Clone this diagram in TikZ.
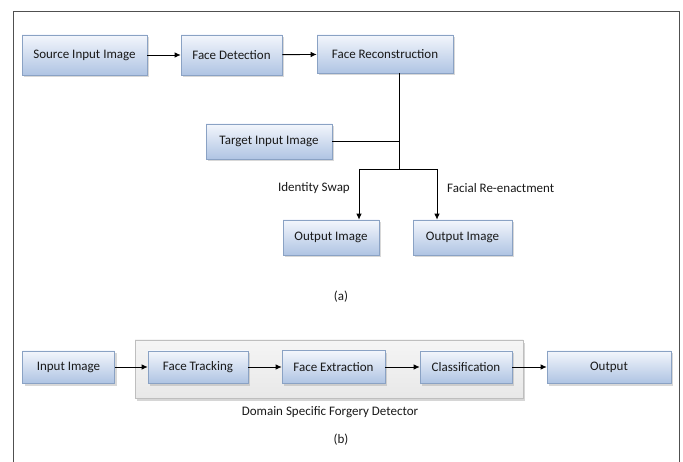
\documentclass[tikz,border=0pt]{standalone}
\usepackage{fontspec}
\setmainfont{Carlito}
\usetikzlibrary{arrows.meta,shadows}
\definecolor{boxtop}{HTML}{F3F6FC}
\definecolor{boxbot}{HTML}{AFC4E3}
\definecolor{boxline}{HTML}{8AA2C4}
\definecolor{frameline}{HTML}{505050}
\definecolor{grpline}{HTML}{BEBEBE}
\tikzset{
  stage/.style={draw=boxline, line width=0.6pt, top color=boxtop, bottom color=boxbot,
    drop shadow={shadow xshift=2pt, shadow yshift=-2.5pt, opacity=0.4, fill=gray!75},
    inner sep=0pt, font=\fontsize{13}{15}\selectfont, text=black!90},
  group/.style={draw=grpline, line width=0.6pt, top color=gray!8, bottom color=gray!18,
    drop shadow={shadow xshift=2pt, shadow yshift=-3pt, opacity=0.4, fill=gray!80}},
  lbl/.style={font=\fontsize{13}{15}\selectfont, text=black!90, inner sep=0pt},
  flow/.style={line width=0.9pt, -{Latex[length=6pt,width=5.5pt]}},
  link/.style={line width=0.9pt}
}
\begin{document}
\begin{tikzpicture}[x=1pt,y=-1pt]
\useasboundingbox (0,0) rectangle (683,462);
\fill[white] (0,0) rectangle (683,462);
% outer frame
\draw[frameline, line width=1pt] (13,470) -- (13,12) -- (679,12) -- (679,470);

% (a) pipeline
\node[stage, minimum width=125pt, minimum height=40pt] (src) at (84.5,55) {Source Input Image};
\node[stage, minimum width=101pt, minimum height=40pt] (det) at (231.5,55) {Face Detection};
\node[stage, minimum width=136pt, minimum height=38pt] (rec) at (385,54) {Face Reconstruction};
\node[stage, minimum width=126pt, minimum height=35pt] (tgt) at (269,141.5) {Target Input Image};
\node[stage, minimum width=96pt, minimum height=35pt] (out1) at (331,237.5) {Output Image};
\node[stage, minimum width=99pt, minimum height=35pt] (out2) at (462.5,237.5) {Output Image};

\draw[flow] (src) -- (det);
\draw[flow] (det) -- (rec);

\coordinate (j1) at (399,141.5);
\coordinate (j2) at (399,169);
\coordinate (c1) at (359,169);
\coordinate (c2) at (437,169);
\draw[link] (rec.south -| j1) -- (j2);
\draw[link] (tgt.east) -- (j1);
\draw[link] (c1) -- (c2);
\draw[flow] (c1) -- (c1 |- out1.north);
\draw[flow] (c2) -- (c2 |- out2.north);

\node[lbl, anchor=east] (swap) at (350,188) {Identity Swap};
\node[lbl, anchor=west] (reen) at (447,188) {Facial Re-enactment};
\node[lbl] (capa) at (341,297) {(a)};

% (b) pipeline
\node[group, minimum width=388pt, minimum height=58pt] (grp) at (329,369) {};
\node[stage, minimum width=92pt, minimum height=32pt] (inp) at (68.5,367) {Input Image};
\node[stage, minimum width=100pt, minimum height=32pt] (trk) at (198,367) {Face Tracking};
\node[stage, minimum width=103pt, minimum height=33pt] (ext) at (333.5,367) {Face Extraction};
\node[stage, minimum width=92pt, minimum height=32pt] (cls) at (466,367) {Classification};
\node[stage, minimum width=124pt, minimum height=32pt] (outb) at (609,367) {Output};

\draw[flow] (inp) -- (trk);
\draw[flow] (trk) -- (ext);
\draw[flow] (ext) -- (cls);
\draw[flow] (cls) -- (outb);

\node[lbl] (dom) at (330,412) {Domain Specific Forgery Detector};
\node[lbl] (capb) at (341,440) {(b)};
\end{tikzpicture}
\end{document}
